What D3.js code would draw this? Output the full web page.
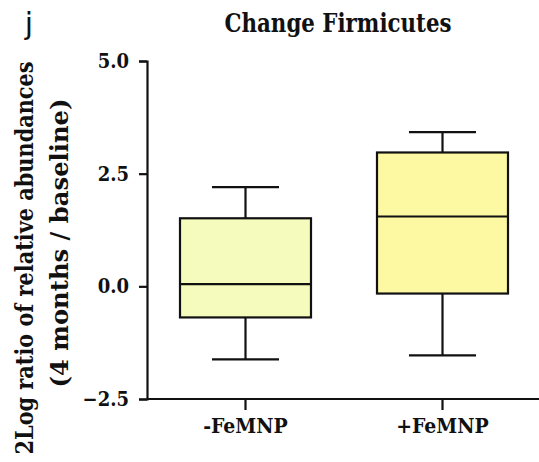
<!DOCTYPE html>
<html>
<head>
<meta charset="utf-8">
<script src="https://cdn.jsdelivr.net/npm/d3@7"></script>
<style>
  body { margin: 0; background: #fff; }
  svg { display: block; }
  .lbl { font-family: "DejaVu Serif Condensed", "DejaVu Serif", serif; font-stretch: condensed; font-weight: bold; fill: #111; }
</style>
</head>
<body>
<script>
// Groups and their box-plot summaries (whisker min, Q1, median, Q3, whisker max)
const groups = ["-FeMNP", "+FeMNP"];
const whiskerLow = [-1.62, -1.53];
const q1 = [-0.69, -0.16];
const median = [0.05, 1.55];
const q3 = [1.51, 2.97];
const whiskerHigh = [2.2, 3.42];
const fills = ["#f4fbbd", "#fdf8a2"];
const yTicks = [-2.5, 0.0, 2.5, 5.0];

const W = 539, H = 462;
const svg = d3.select("body").append("svg").attr("width", W).attr("height", H);

const x = d3.scaleBand().domain(groups).range([147, 541]).paddingInner(0).paddingOuter(0);
const y = d3.scaleLinear().domain([-2.5, 5.0]).range([399, 61]);

// Axes
const yAxis = svg.append("g").attr("transform", "translate(147,0)")
  .call(d3.axisLeft(y).tickValues(yTicks).tickFormat(d3.format(".1f")).tickSize(8).tickPadding(10));
const xAxis = svg.append("g").attr("transform", "translate(0,399)")
  .call(d3.axisBottom(x).tickSize(11).tickPadding(6));
[yAxis, xAxis].forEach(a => {
  a.attr("font-family", null).attr("font-size", null);
  a.select(".domain").attr("stroke", "#111").attr("stroke-width", 2.2);
  a.selectAll(".tick line").attr("stroke", "#111").attr("stroke-width", 2.2);
  a.selectAll(".tick text").attr("class", "lbl").attr("fill", "#111");
});
yAxis.selectAll(".tick text").style("font-size", "20px");
xAxis.selectAll(".tick text").style("font-size", "21px").attr("dy", "0.8em");
xAxis.select(".domain").attr("d", "M147,0H539");

// Boxes
const boxW = 131, capW = 67;
const g = svg.append("g").attr("stroke", "#111").attr("stroke-width", 2.2);
groups.forEach((grp, i) => {
  const cx = x(grp) + x.bandwidth() / 2;
  // whiskers
  g.append("line").attr("x1", cx).attr("x2", cx).attr("y1", y(whiskerHigh[i])).attr("y2", y(q3[i]));
  g.append("line").attr("x1", cx).attr("x2", cx).attr("y1", y(q1[i])).attr("y2", y(whiskerLow[i]));
  g.append("line").attr("x1", cx - capW / 2).attr("x2", cx + capW / 2).attr("y1", y(whiskerHigh[i])).attr("y2", y(whiskerHigh[i]));
  g.append("line").attr("x1", cx - capW / 2).attr("x2", cx + capW / 2).attr("y1", y(whiskerLow[i])).attr("y2", y(whiskerLow[i]));
  // box
  g.append("rect").attr("x", cx - boxW / 2).attr("width", boxW)
    .attr("y", y(q3[i])).attr("height", y(q1[i]) - y(q3[i])).attr("fill", fills[i]);
  // median
  g.append("line").attr("x1", cx - boxW / 2).attr("x2", cx + boxW / 2).attr("y1", y(median[i])).attr("y2", y(median[i]));
});

// Title
svg.append("text").attr("class", "lbl").attr("x", 338).attr("y", 32).attr("text-anchor", "middle")
  .attr("textLength", 227).attr("lengthAdjust", "spacingAndGlyphs")
  .style("font-size", "26px").text("Change Firmicutes");

// Y-axis title (two lines)
svg.append("text").attr("class", "lbl").attr("transform", "translate(33,258) rotate(-90)").attr("text-anchor", "middle")
  .attr("textLength", 393).attr("lengthAdjust", "spacingAndGlyphs")
  .style("font-size", "25px").text("2Log ratio of relative abundances");
svg.append("text").attr("class", "lbl").attr("transform", "translate(68,243) rotate(-90)").attr("text-anchor", "middle")
  .attr("textLength", 289).attr("lengthAdjust", "spacingAndGlyphs")
  .style("font-size", "25px").text("(4 months / baseline)");

// Panel letter
svg.append("text").attr("x", 29).attr("y", 34).attr("text-anchor", "middle")
  .attr("font-family", "DejaVu Sans").attr("font-size", 30)
  .attr("fill", "#111").text("j");
</script>
</body>
</html>
